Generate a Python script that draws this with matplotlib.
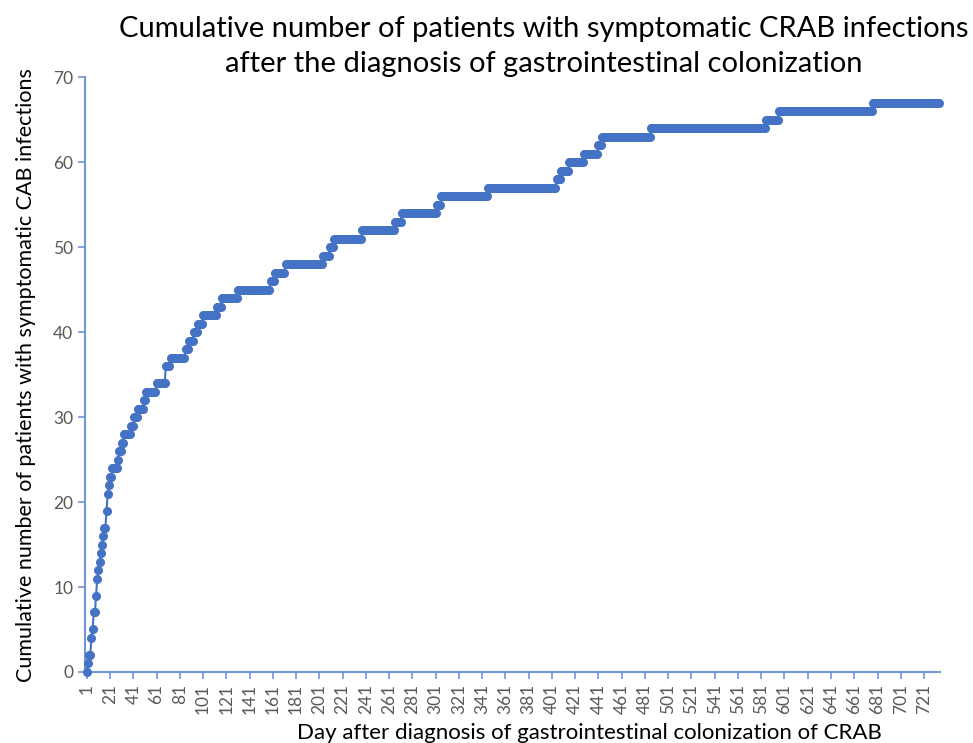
"""Cumulative symptomatic CRAB infections after GI colonization (step chart)."""

import numpy as np
import matplotlib

matplotlib.use("Agg")
import matplotlib.pyplot as plt

# Day on which each cumulative level is first reached.
step_days = [1, 2, 3, 5, 6, 7, 9, 10, 11, 12, 13, 14, 15, 16, 18, 19, 20, 21,
             23, 28, 29, 31, 33, 39, 42, 45, 50, 52, 61, 69, 73, 86, 89, 93,
             97, 101, 113, 117, 131, 159, 163, 172, 204, 210, 214, 238, 266,
             272, 302, 306, 346, 405, 409, 416, 429, 441, 444, 486, 585, 596,
             677]
step_levels = [0, 1, 2, 4, 5, 7, 9, 11, 12, 13, 14, 15, 16, 17, 19, 21, 22, 23,
               24, 25, 26, 27, 28, 29, 30, 31, 32, 33, 34, 36, 37, 38, 39, 40,
               41, 42, 43, 44, 45, 46, 47, 48, 49, 50, 51, 52, 53,
               54, 55, 56, 57, 58, 59, 60, 61, 62, 63, 64, 65, 66,
               67]
last_day = 734

TITLE = ("Cumulative number of patients with symptomatic CRAB infections\n"
         "after the diagnosis of gastrointestinal colonization")
XLABEL = "Day after diagnosis of gastrointestinal colonization of CRAB"
YLABEL = "Cumulative number of patients with symptomatic CAB infections"

BLUE = "#4472C4"
AXIS = "#6F97D8"
GREY = "#595959"

plt.rcParams["font.family"] = ["Lato", "DejaVu Sans"]

days = np.arange(1, last_day + 1)
idx = np.searchsorted(step_days, days, side="right") - 1
counts = np.asarray(step_levels)[idx]

fig = plt.figure(figsize=(9.73, 7.43), dpi=100)
ax = fig.add_axes([0.0874, 0.0956, 0.879, 0.8004])

ax.plot(days, counts, color=BLUE, lw=1.5, marker="o", ms=5.5, mec=BLUE, mfc=BLUE,
        clip_on=False, zorder=3)

ax.set_xlim(-0.5, last_day + 1)
ax.set_ylim(0, 70)
ax.set_yticks(np.arange(0, 71, 10))
ax.set_xticks(np.arange(1, last_day + 1, 20))
ax.tick_params(axis="x", labelrotation=90, colors=AXIS, labelcolor=GREY,
               labelsize=12.5, length=5, width=1.2)
ax.tick_params(axis="y", colors=AXIS, labelcolor=GREY, labelsize=12.5,
               length=5, width=1.2)

for side in ("top", "right"):
    ax.spines[side].set_visible(False)
for side in ("left", "bottom"):
    ax.spines[side].set_color(AXIS)
    ax.spines[side].set_linewidth(1.5)

ax.set_xlabel(XLABEL, fontsize=16, color="black")
ax.xaxis.set_label_coords(0.59, -0.085)
ax.set_ylabel(YLABEL, fontsize=15.5, color="black", labelpad=12)
fig.text(0.5586, 0.978, TITLE, ha="center", va="top", fontsize=21,
         linespacing=1.4)

fig.savefig("out.png", dpi=100)
plt.close(fig)
